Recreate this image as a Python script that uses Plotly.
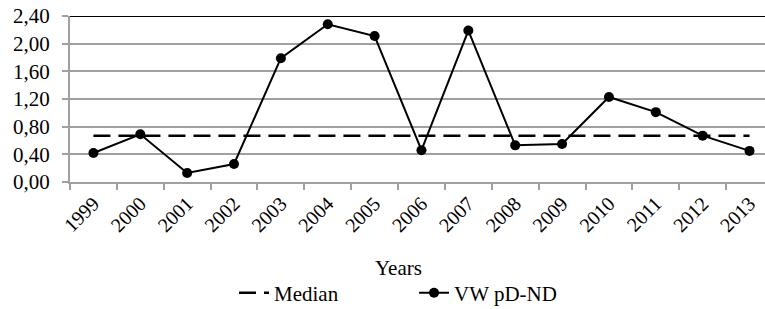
import plotly.graph_objects as go

years = ["1999", "2000", "2001", "2002", "2003", "2004", "2005", "2006",
         "2007", "2008", "2009", "2010", "2011", "2012", "2013"]
vw_values = [0.42, 0.69, 0.13, 0.26, 1.79, 2.28, 2.11, 0.46,
             2.19, 0.53, 0.55, 1.23, 1.01, 0.67, 0.45]
median_value = 0.67
median_values = [median_value] * len(years)
y_ticks = [0.0, 0.4, 0.8, 1.2, 1.6, 2.0, 2.4]

FONT = "Times New Roman, Liberation Serif, DejaVu Serif, serif"
GRAY = "#a0a0a0"

fig = go.Figure()
fig.add_trace(go.Scatter(
    x=years, y=median_values, mode="lines", name="Median",
    line=dict(color="black", width=2.5, dash="17px,8px"),
))
fig.add_trace(go.Scatter(
    x=years, y=vw_values, mode="lines+markers", name="VW pD-ND",
    line=dict(color="black", width=2),
    marker=dict(color="black", size=10),
))

fig.add_shape(type="line", xref="paper", yref="y", x0=0, x1=1, y0=2.4, y1=2.4,
              line=dict(color="black", width=2))

fig.add_annotation(text="Years", xref="paper", yref="paper", x=0.472, y=-0.518,
                   showarrow=False, font=dict(family=FONT, size=21, color="black"),
                   xanchor="center", yanchor="middle")

fig.update_layout(
    width=765, height=309,
    margin=dict(l=70, r=0, t=16, b=127, autoexpand=False),
    paper_bgcolor="white", plot_bgcolor="white",
    separators=", ",
    font=dict(family=FONT, size=20, color="black"),
    showlegend=True,
    legend=dict(orientation="h", x=0.495, xanchor="center", y=-0.669, yanchor="middle",
                font=dict(family=FONT, size=21, color="black"),
                entrywidth=135, bgcolor="rgba(0,0,0,0)"),
    xaxis=dict(
        type="category", range=[-0.5, 14.33], automargin=False,
        showline=True, linecolor=GRAY, linewidth=2,
        ticks="outside", tickson="boundaries", ticklen=6, tickcolor=GRAY, tickwidth=2,
        tickangle=-45, showgrid=False,
        tickfont=dict(family=FONT, size=20, color="black"),
    ),
    yaxis=dict(
        range=[0, 2.4], tickvals=y_ticks, tickformat=".2f", automargin=False,
        showline=True, linecolor=GRAY, linewidth=2,
        ticks="outside", ticklen=6, tickcolor=GRAY, tickwidth=2,
        showgrid=True, gridcolor=GRAY, gridwidth=1.5,
        zeroline=False, ticklabelstandoff=8,
        tickfont=dict(family=FONT, size=21, color="black"),
    ),
)

fig.write_html("out.html", config={"displayModeBar": False},
               post_script="document.body.style.margin='0';")
